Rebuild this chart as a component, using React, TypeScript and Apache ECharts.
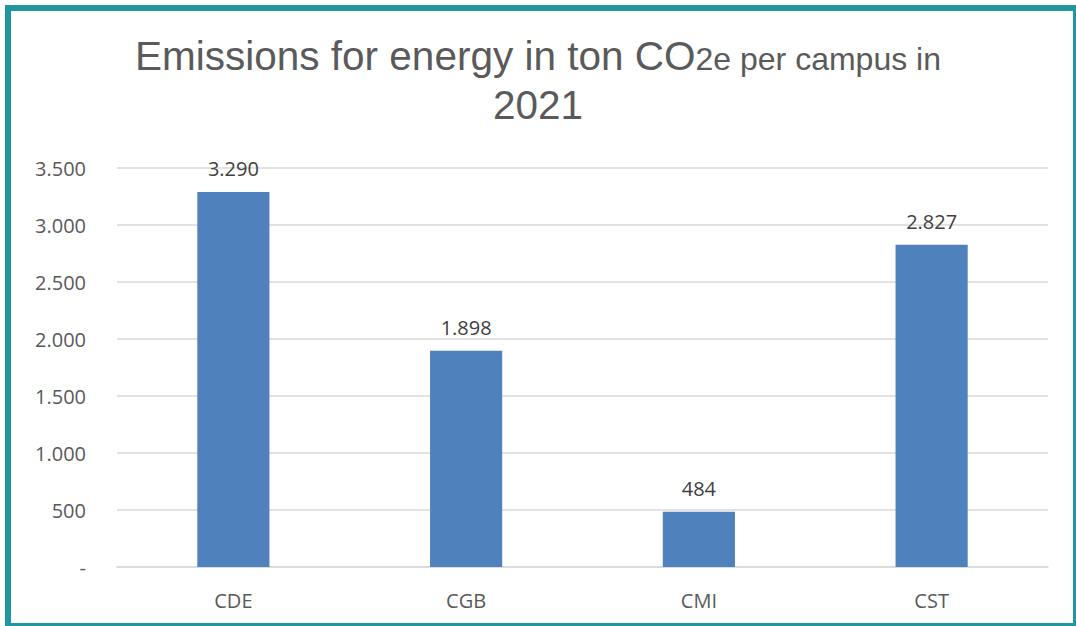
import React, { useEffect, useRef } from "react";
import * as echarts from "echarts";

const categories = ["CDE", "CGB", "CMI", "CST"];
const emissions = [3290, 1898, 484, 2827];
const yMax = 3500;
const yInterval = 500;

const fmt = (v: number) => {
  if (v === 0) return "-";
  return String(Math.round(v)).replace(/\B(?=(\d{3})+(?!\d))/g, ".");
};

const titleFont = "'Liberation Sans', Arial, sans-serif";
const bodyFont = "'Open Sans', sans-serif";

export default function App() {
  const ref = useRef<HTMLDivElement>(null);
  useEffect(() => {
    const chart = echarts.init(ref.current!, null, { renderer: "svg" });
    chart.setOption({
      animation: false,
      backgroundColor: "#ffffff",
      title: {
        text: "{a|Emissions for energy in ton CO}{b|2e per campus in}\n{a|2021}",
        left: "center",
        top: 31,
        padding: [0, 0, 0, 20],
        textStyle: {
          fontWeight: "normal",
          rich: {
            a: { fontFamily: titleFont, fontWeight: "normal", fontSize: 40.5, color: "#5a5a5a", lineHeight: 49 },
            b: { fontFamily: titleFont, fontWeight: "normal", fontSize: 32, color: "#5a5a5a", lineHeight: 49, padding: [6, 0, 0, 0] },
          },
        },
      },
      graphic: [
        {
          type: "rect",
          shape: { x: 8, y: 8, width: 1068, height: 618 },
          style: { fill: "none", stroke: "#2196a0", lineWidth: 6 },
          silent: true,
        },
      ],
      grid: { left: 117, right: 28, top: 168, height: 399 },
      xAxis: {
        type: "category",
        data: categories,
        axisLine: { lineStyle: { color: "#d9d9d9", width: 1.5 } },
        axisTick: { show: false },
        axisLabel: { color: "#595959", fontSize: 20, fontFamily: bodyFont, margin: 23 },
      },
      yAxis: {
        type: "value",
        min: 0,
        max: yMax,
        interval: yInterval,
        axisLine: { show: false },
        axisTick: { show: false },
        splitLine: { lineStyle: { color: "#d9d9d9", width: 1.5 } },
        axisLabel: {
          color: "#595959",
          fontSize: 20,
          fontFamily: bodyFont,
          margin: 31,
          formatter: (v: number) => fmt(v),
        },
      },
      series: [
        {
          type: "bar",
          data: emissions,
          barWidth: "31%",
          itemStyle: { color: "#4f81bd" },
          label: {
            show: true,
            position: "top",
            distance: 13,
            color: "#404040",
            fontSize: 20,
            fontFamily: bodyFont,
            formatter: (p: any) => fmt(p.value),
          },
        },
      ],
    });
    return () => chart.dispose();
  }, []);
  return (
    <div
      ref={ref}
      style={{ position: "fixed", left: 0, top: 0, width: 1076, height: 626 }}
    />
  );
}
